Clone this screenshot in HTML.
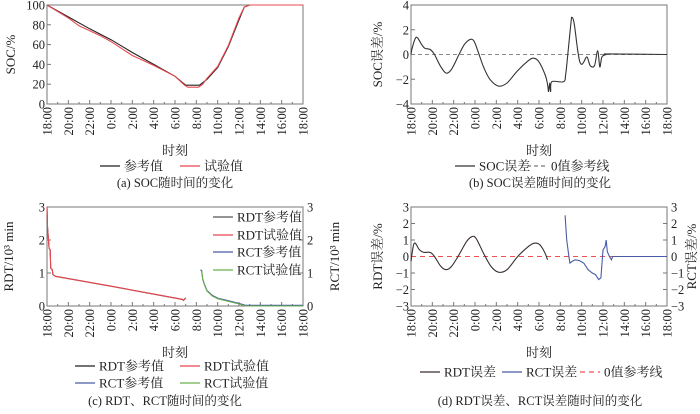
<!DOCTYPE html>
<html><head><meta charset="utf-8"><style>
body{margin:0;background:#fff}
svg text{font-family:"Liberation Serif","Noto Serif CJK SC",serif;fill:#222}
</style></head><body>
<svg id="s" width="700" height="409" xmlns="http://www.w3.org/2000/svg"></svg>
<script>
const tickHours=[0,2,4,6,8,10,12,14,16,18,20,22,24];
const tickLabels=["18:00","20:00","22:00","0:00","2:00","4:00","6:00","8:00","10:00","12:00","14:00","16:00","18:00"];
// panel a
const socRefX=[0,2,4,6,8,10,12,13,14.3,15,16,17,18,18.5,19,24];
const socRefY=[100,88,76,65,52,40,28,19,19,25,37,58,85,98,100,100];
const socTestX=[0,2,3,4,5,6,7,8,9,10,12,12.9,13.2,14.2,14.6,15,16,17,18,18.5,19,24];
const socTestY=[100,87,79,74,69,63,56,49,44,39,28,19,17,17,20,26,38,59,87,98,100,100];
// panel b
const socErrX=[0,0.1,0.5,1,1.3,1.8,2.2,2.8,3.3,3.8,4.5,5,5.5,5.9,6.3,6.8,7.4,8.2,9,10,11,11.5,12,12.6,12.8,12.9,13,13.1,13.2,14.3,14.5,14.7,15,15.1,15.3,15.6,15.8,16,16.2,16.5,16.8,17.2,17.5,17.7,17.9,18.3,18.6,24];
const socErrY=[0,0.5,1.4,0.8,0.5,0.4,0,-1,-1.5,-1.2,0,0.8,1.2,1.1,0.2,-1,-2,-2.55,-2.3,-1.3,-0.5,-0.3,-0.6,-1.7,-2.4,-3,-2.3,-3,-2.2,-2.2,-1.6,0,2.6,3,2.5,0.5,-0.5,-0.8,-0.6,-0.2,-0.9,-0.9,0.3,-1,-0.2,0,0.05,0];
// panel c
const rdtX=[0,0.05,0.2,0.3,0.35,0.5,0.55,0.8,6,12.7,12.8,13];
const rdtY=[3,2.4,1.75,1.7,1.15,1.1,0.95,0.9,0.6,0.2,0.17,0.25];
const rctX=[14.4,14.5,14.6,14.8,15,15.5,16,17,18,18.6,24];
const rctY=[1.08,1.05,0.8,0.6,0.45,0.3,0.22,0.14,0.06,0,0];
// panel d
const rdtErrX=[0,0.3,0.8,1.2,1.8,2.2,2.8,3.3,3.8,4.5,5.2,5.7,6.1,6.8,7.5,8.2,9,10,11,11.5,12,12.5,12.8];
const rdtErrY=[-0.3,0.8,0.4,0.25,0.25,0,-0.6,-0.8,-0.6,0.1,0.9,1.2,1.1,0.2,-0.6,-0.95,-0.8,0,0.6,0.8,0.75,0.3,-0.2];
const rctErrX=[14.45,14.6,14.8,14.9,15.1,15.4,15.8,16.2,16.6,17,17.3,17.6,17.8,18,18.2,18.3,18.4,18.6,18.8,18.9,24];
const rctErrY=[2.5,1,0,-0.4,-0.3,-0.2,-0.25,-0.4,-0.8,-1,-1.1,-1.4,-1.3,0.4,0.6,1,0.3,0,-0.2,0,0];

const S=document.getElementById('s');const NS='http://www.w3.org/2000/svg';
function mk(t,a,txt){const e=document.createElementNS(NS,t);for(const k in a)e.setAttribute(k,a[k]);if(txt!==undefined)e.textContent=txt;S.appendChild(e);return e;}
function sx(p,h){return p.l+(p.r-p.l)*h/24;}
function sy(p,v){return p.b-(p.b-p.t)*(v-p.y0)/(p.y1-p.y0);}
function line(p,xs,ys,col,name,dash,smooth){
 const P=xs.map((x,i)=>[sx(p,x),sy(p,ys[i])]);let d='M'+P[0][0].toFixed(1)+','+P[0][1].toFixed(1);
 for(let i=1;i<P.length;i++){
  if(smooth){const a=P[Math.max(0,i-2)],b=P[i-1],c=P[i],e=P[Math.min(P.length-1,i+1)];
   const c1=[b[0]+(c[0]-a[0])/6,b[1]+(c[1]-a[1])/6],c2=[c[0]-(e[0]-b[0])/6,c[1]-(e[1]-b[1])/6];
   d+='C'+c1.map(v=>v.toFixed(1)).join(',')+' '+c2.map(v=>v.toFixed(1)).join(',')+' '+c[0].toFixed(1)+','+c[1].toFixed(1);}
  else d+='L'+P[i][0].toFixed(1)+','+P[i][1].toFixed(1);}
 const e=mk('path',{d:d,fill:'none',stroke:col,'stroke-width':1.1,'stroke-dasharray':dash||'none'});
 
 }
function axes(p,id,yt,ylab,yo,rt,rlab,ro){
 const f=mk('rect',{x:p.l,y:p.t,width:p.r-p.l,height:p.b-p.t,fill:'none',stroke:'#777','stroke-width':1});
 
 for(let h=0;h<=24;h++){const x=sx(p,h);mk('line',{x1:x,x2:x,y1:p.b,y2:p.b-(h%2?2:4),stroke:'#777'});}
 tickHours.forEach((h,i)=>{const x=sx(p,h)+4.5;const t=mk('text',{x:0,y:0,'font-size':12.5,'text-anchor':'end',transform:`translate(${x},${p.b+3}) rotate(-90)`},tickLabels[i]);
  });
 yt.forEach(v=>{const y=sy(p,v);mk('line',{x1:p.l,x2:p.l+4,y1:y,y2:y,stroke:'#777'});
  const t=mk('text',{x:p.l-2,y:y+4.5,'font-size':12.5,'text-anchor':'end'},String(v).replace('-','−'));
  });
 const yl=mk('text',{x:0,y:0,'font-size':13,'text-anchor':'middle',transform:`translate(${yo+4},${(p.t+p.b)/2}) rotate(-90)`},ylab);
 
 if(rt){rt.forEach(v=>{const y=sy(p,v);mk('line',{x1:p.r,x2:p.r-4,y1:y,y2:y,stroke:'#777'});
  const t=mk('text',{x:p.r+4,y:y+4.5,'font-size':12.5},String(v).replace('-','−'));
  });
  const rl=mk('text',{x:0,y:0,'font-size':13,'text-anchor':'middle',transform:`translate(${ro+4},${(p.t+p.b)/2}) rotate(-90)`},rlab);
  }
 const xt=mk('text',{x:(p.l+p.r)/2,y:p.b+51,'font-size':13,'text-anchor':'middle'},'时刻');
 }
function leg(x,y,col,label,name,dash){mk('line',{x1:x,x2:x+20,y1:y,y2:y,stroke:col,'stroke-width':1.2,'stroke-dasharray':dash||'none'});
 const t=mk('text',{x:x+24,y:y+4.5,'font-size':13},label);}
function cap(x,y,txt,name){const t=mk('text',{x:x,y:y,'font-size':12.5,'text-anchor':'middle'},txt);}

const pa={l:47,r:303,t:5,b:104,y0:0,y1:100};
axes(pa,'a',[0,20,40,60,80,100],'SOC/%',11);
line(pa,socRefX,socRefY,'#222','soc-reference-line');
line(pa,socTestX,socTestY,'#e8474f','soc-test-line');
leg(100,166,'#222','参考值','legend-a-reference');leg(180,166,'#e8474f','试验值','legend-a-test');
cap(175,187,'(a) SOC随时间的变化','caption-a');

const pb={l:411,r:667,t:5,b:104,y0:-4,y1:4};
axes(pb,'b',[-4,-2,0,2,4],'SOC误差/%',378);
line(pb,[0,24],[0,0],'#888','b-zero-reference-line','4,3');
line(pb,socErrX,socErrY,'#333','soc-error-line',null,true);
leg(455,166,'#333','SOC误差','legend-b-error');leg(527,166,'#777','0值参考线','legend-b-zero','4,3');
cap(540,187,'(b) SOC误差随时间的变化','caption-b');

const pc={l:47,r:303,t:207,b:306,y0:0,y1:3};
axes(pc,'c',[0,1,2,3],'RDT/10³ min',9,[0,1,2,3],'RCT/10³ min',335);
line(pc,rdtX,rdtY,'#333','rdt-reference-line');
line(pc,rdtX,rdtY,'#e8474f','rdt-test-line');
line(pc,rctX,rctY.map(v=>v+0.02),'#4a5aa8','rct-reference-line');
line(pc,rctX,rctY,'#6ab04c','rct-test-line');
leg(213,217,'#555','RDT参考值','legend-c-inner-rdt-ref');leg(213,235,'#e8474f','RDT试验值','legend-c-inner-rdt-test');
leg(213,252,'#4a5aa8','RCT参考值','legend-c-inner-rct-ref');leg(213,270,'#6ab04c','RCT试验值','legend-c-inner-rct-test');
leg(75,366,'#222','RDT参考值','legend-c-rdt-ref');leg(180,366,'#e8474f','RDT试验值','legend-c-rdt-test');
leg(75,383,'#4a5aa8','RCT参考值','legend-c-rct-ref');leg(180,383,'#6ab04c','RCT试验值','legend-c-rct-test');
cap(165,405,'(c) RDT、RCT随时间的变化','caption-c');

const pd={l:411,r:667,t:207,b:306,y0:-3,y1:3};
axes(pd,'d',[-3,-2,-1,0,1,2,3],'RDT误差/%',378,[-3,-2,-1,0,1,2,3],'RCT误差/%',692);
line(pd,[0,24],[0,0],'#f05050','d-zero-reference-line','5,4');
line(pd,rdtErrX,rdtErrY,'#3a2e2e','rdt-error-line',null,true);
line(pd,rctErrX,rctErrY,'#4a5aa8','rct-error-line');
leg(420,372,'#3a2e2e','RDT误差','legend-d-rdt');leg(502,372,'#4a5aa8','RCT误差','legend-d-rct');leg(580,372,'#f05050','0值参考线','legend-d-zero','5,4');
cap(540,405,'(d) RDT误差、RCT误差随时间的变化','caption-d');
</script>
</body></html>
